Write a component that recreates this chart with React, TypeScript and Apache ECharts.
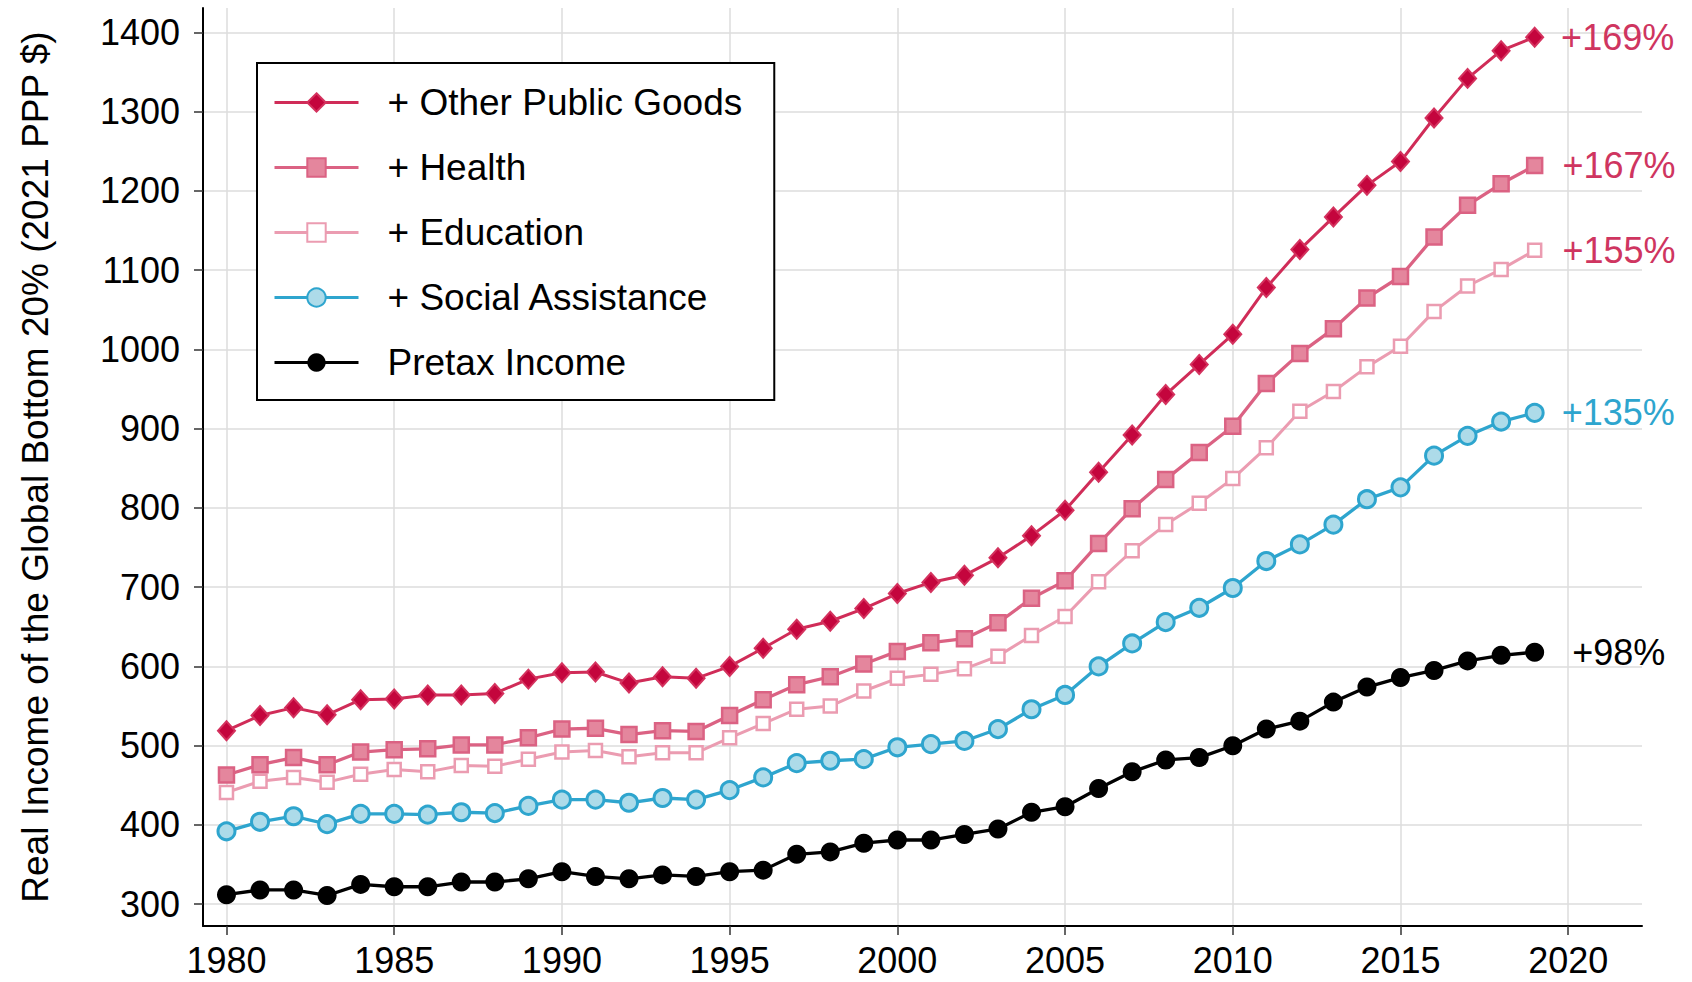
import React, { useEffect, useRef } from "react";
import * as echarts from "echarts";

const years = [
  1980, 1981, 1982, 1983, 1984, 1985, 1986, 1987, 1988, 1989,
  1990, 1991, 1992, 1993, 1994, 1995, 1996, 1997, 1998, 1999,
  2000, 2001, 2002, 2003, 2004, 2005, 2006, 2007, 2008, 2009,
  2010, 2011, 2012, 2013, 2014, 2015, 2016, 2017, 2018, 2019,
];

const otherPublicGoods = [
  519, 538, 548, 539, 558, 559, 564, 564, 566, 584,
  592, 593, 579, 587, 585, 600, 623, 647, 657, 673,
  692, 706, 715, 737, 765, 797, 845, 892, 943, 981,
  1019, 1078, 1126, 1167, 1207, 1237, 1292, 1342, 1377, 1394,
];
const health = [
  463, 476, 485, 476, 492, 495, 496, 501, 501, 510,
  521, 522, 514, 519, 518, 538, 558, 577, 587, 603,
  619, 630, 635, 655, 686, 708, 755, 799, 836, 870,
  903, 957, 995, 1026, 1065, 1092, 1142, 1182, 1209, 1232,
];
const education = [
  441, 455, 460, 454, 464, 470, 467, 475, 474, 483,
  492, 494, 486, 491, 491, 510, 528, 546, 550, 569,
  585, 590, 597, 613, 639, 663, 707, 746, 779, 806,
  837, 876, 922, 947, 978, 1004, 1048, 1080, 1101, 1125,
];
const socialAssistance = [
  392, 404, 411, 401, 414, 414, 413, 416, 415, 424,
  432, 432, 428, 434, 432, 444, 460, 478, 481, 483,
  498, 502, 506, 521, 546, 564, 600, 629, 656, 674,
  699, 733, 754, 779, 811, 826, 866, 891, 909, 920,
];
const pretaxIncome = [
  312, 318, 318, 311, 325, 322, 322, 328, 328, 332,
  341, 335, 332, 337, 335, 341, 343, 363, 366, 377,
  381, 381, 388, 395, 416, 423, 446, 467, 482, 485,
  500, 521, 531, 555, 574, 586, 595, 607, 614, 618,
];

const seriesNames = [
  "+ Other Public Goods",
  "+ Health",
  "+ Education",
  "+ Social Assistance",
  "Pretax Income",
];
const endLabels = ["+169%", "+167%", "+155%", "+135%", "+98%"];

const xTicks = [1980, 1985, 1990, 1995, 2000, 2005, 2010, 2015, 2020];
const yTicks = [300, 400, 500, 600, 700, 800, 900, 1000, 1100, 1200, 1300, 1400];

const FONT = "'Liberation Sans', Arial, Helvetica, sans-serif";

function buildData(values: number[], label: string, labelColor: string, labelDist: number) {
  return values.map((v, i) => {
    if (i === values.length - 1) {
      return {
        value: [years[i], v],
        label: {
          show: true,
          position: "right",
          distance: labelDist,
          formatter: label,
          color: labelColor,
          fontSize: 36,
          fontFamily: FONT,
        },
      };
    }
    return { value: [years[i], v] };
  });
}

export default function App() {
  const ref = useRef<HTMLDivElement>(null);

  useEffect(() => {
    if (!ref.current) return;
    const chart = echarts.init(ref.current, undefined, { renderer: "svg" });

    const crimsonLabel = "#CF3560";

    const option: any = {
      animation: false,
      backgroundColor: "#ffffff",
      textStyle: { fontFamily: FONT },
      grid: { left: 203, right: 50, top: 8, bottom: 56, containLabel: false },
      legend: {
        data: seriesNames.map((name) => ({ name, lineStyle: { width: 3 } })),
        orient: "vertical",
        left: 257,
        top: 63,
        itemWidth: 84,
        itemHeight: 23,
        itemGap: 28,
        padding: [21, 32, 19, 16],
        borderColor: "#000000",
        borderWidth: 2,
        backgroundColor: "#ffffff",
        lineStyle: { width: 3 },
        textStyle: {
          fontSize: 37,
          color: "#000000",
          fontFamily: FONT,
          padding: [0, 0, 0, 24],
        },
      },
      xAxis: {
        type: "value",
        min: 1979.3,
        max: 2022.2,
        axisLine: { show: true, onZero: false, lineStyle: { color: "#000000", width: 2 } },
        axisTick: {
          show: true,
          length: 9,
          customValues: xTicks,
          lineStyle: { color: "#333333", width: 1.5 },
        },
        axisLabel: {
          customValues: xTicks,
          formatter: (v: number) => String(v),
          fontSize: 36,
          color: "#000000",
          margin: 16,
          fontFamily: FONT,
        },
        splitLine: { show: true, lineStyle: { color: "#DCDCDC", width: 1.5 } },
      },
      yAxis: {
        type: "value",
        min: 272.5,
        max: 1430.8,
        name: "Real Income of the Global Bottom 20% (2021 PPP $)",
        nameLocation: "middle",
        nameGap: 149,
        nameTextStyle: { fontSize: 37, color: "#000000", fontFamily: FONT },
        axisLine: { show: true, onZero: false, lineStyle: { color: "#000000", width: 2 } },
        axisTick: {
          show: true,
          length: 9,
          customValues: yTicks,
          lineStyle: { color: "#333333", width: 1.5 },
        },
        axisLabel: {
          customValues: yTicks,
          formatter: (v: number) => String(v),
          fontSize: 36,
          color: "#000000",
          margin: 23,
          fontFamily: FONT,
        },
        splitLine: { show: true, lineStyle: { color: "#DCDCDC", width: 1.5 } },
      },
      series: [
        {
          name: seriesNames[0],
          type: "line",
          z: 6,
          symbol: "diamond",
          symbolSize: [17, 19],
          lineStyle: { color: "#D02C58", width: 3 },
          itemStyle: { color: "#C4053D", borderColor: "#D4325E", borderWidth: 2 },
          data: buildData(otherPublicGoods, endLabels[0], crimsonLabel, 17),
        },
        {
          name: seriesNames[1],
          type: "line",
          z: 5,
          symbol: "rect",
          symbolSize: 15,
          lineStyle: { color: "#DB6283", width: 3.3 },
          itemStyle: { color: "#E4869D", borderColor: "#DB6283", borderWidth: 2.5 },
          data: buildData(health, endLabels[1], crimsonLabel, 19),
        },
        {
          name: seriesNames[2],
          type: "line",
          z: 4,
          symbol: "rect",
          symbolSize: 13,
          lineStyle: { color: "#EB9CB1", width: 3 },
          itemStyle: { color: "#ffffff", borderColor: "#EB9CB1", borderWidth: 2.5 },
          data: buildData(education, endLabels[2], crimsonLabel, 20),
        },
        {
          name: seriesNames[3],
          type: "line",
          z: 3,
          symbol: "circle",
          symbolSize: 17,
          lineStyle: { color: "#2EA5CE", width: 3.3 },
          itemStyle: { color: "#ADDBE9", borderColor: "#2EA5CE", borderWidth: 3 },
          data: buildData(socialAssistance, endLabels[3], "#2EA5CE", 17),
        },
        {
          name: seriesNames[4],
          type: "line",
          z: 2,
          symbol: "circle",
          symbolSize: 19,
          lineStyle: { color: "#000000", width: 3.3 },
          itemStyle: { color: "#000000", borderColor: "#000000", borderWidth: 0 },
          data: buildData(pretaxIncome, endLabels[4], "#000000", 28),
        },
      ],
    };

    chart.setOption(option);
    return () => chart.dispose();
  }, []);

  return (
    <div
      ref={ref}
      style={{ position: "fixed", left: 0, top: 0, width: 1692, height: 982, background: "#fff" }}
    />
  );
}
